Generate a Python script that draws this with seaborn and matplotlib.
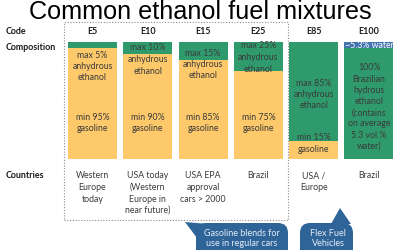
import matplotlib
matplotlib.use("Agg")
import matplotlib.pyplot as plt
import seaborn as sns
import pandas as pd
from matplotlib.patches import Rectangle, FancyBboxPatch, Polygon

# ---------------- data ----------------
codes = ["E5", "E10", "E15", "E25", "E85", "E100"]
total = [100, 100, 100, 100, 100, 100]
top_share = [5, 10, 15, 25, 85, 5.3]          # ethanol (E5..E85) / water (E100) share, %
top_labels = ["max 5%\nanhydrous\nethanol", "max 10%\nanhydrous\nethanol",
              "max 15%\nanhydrous\nethanol", "max 25%\nanhydrous\nethanol",
              "max 85%\nanhydrous\nethanol", "~5.3% water"]
base_labels = ["min 95%\ngasoline", "min 90%\ngasoline", "min 85%\ngasoline",
               "min 75%\ngasoline", "min 15%\ngasoline",
               "100%\nBrazilian\nhydrous\nethanol\n(contains\non average\n5.3 vol.%\nwater)"]
countries = ["Western\nEurope\ntoday", "USA today\n(Western\nEurope in\nnear future)",
             "USA EPA\napproval\ncars > 2000", "Brazil", "USA /\nEurope", "Brazil"]
row_labels = ["Code", "Composition", "Countries"]
title = "Common ethanol fuel mixtures"
callouts = ["Gasoline blends for\nuse in regular cars", "Flex Fuel\nVehicles"]

# ---------------- style ----------------
GREEN = "#2f9b6c"
YELLOW = "#fec96b"
BLUE = "#4374b0"
CALLOUT = "#2f6499"
TXT = "#3a3a3a"
FONT = "Lato"

W, H = 400, 250
sns.set_theme(style="white")
plt.rcParams["font.family"] = [FONT, "DejaVu Sans"]

fig = plt.figure(figsize=(W / 100, H / 100), dpi=100)
fig.patch.set_facecolor("white")


def fx(x):
    return x / W


def fy(y):
    return 1 - y / H


# axes for the bars: 6 categories, pitch 55.3 px, first center at 92.5 px
pitch = 55.3
left = 92.5 - pitch / 2
top_px, bot_px = 42, 159
ax = fig.add_axes([fx(left), fy(bot_px), fx(6 * pitch), (bot_px - top_px) / H])

base_colors = [YELLOW] * 5 + [GREEN]
top_colors = [GREEN] * 5 + [BLUE]
df = pd.DataFrame({"code": codes, "total": total})
bw = 49 / pitch
sns.barplot(data=df, x="code", y="total", hue="code", palette=base_colors,
            width=bw, linewidth=0, legend=False, ax=ax, saturation=1)
ax.bar(range(len(codes)), top_share, width=bw, bottom=0, color=top_colors, linewidth=0)
ax.set_xlim(-0.5, len(codes) - 0.5)
ax.set_ylim(100, 0)
ax.axis("off")

# ---------------- texts ----------------
fig.text(fx(200), fy(19), title, ha="center", va="baseline",
         fontsize=18.2, family="Liberation Sans", color="black")

row_y = [31, 48, 176]
for lab, y in zip(row_labels, row_y):
    fig.text(fx(6), fy(y), lab, ha="left", va="center", fontsize=6.4,
             fontweight="bold", color="#1a1a1a")

centers = [92.5 + pitch * i for i in range(len(codes))]
for c, code in zip(centers, codes):
    fig.text(fx(c), fy(31), code, ha="center", va="center", fontsize=6.4,
             fontweight="bold", color="#1a1a1a")


def lines(x, y0, text, step=11.5, **kw):
    for i, ln in enumerate(text.split("\n")):
        fig.text(fx(x), fy(y0 + i * step), ln, ha="center", va="center", **kw)


top_y = [55, 48, 53, 46, 83, 46]
base_y = [117, 117, 117, 117, 138, 68]
for i, c in enumerate(centers):
    col_top = "white" if i == 5 else TXT
    lines(c, top_y[i], top_labels[i], fontsize=6.3, color=col_top)
    step = 11.2 if i == 5 else 11.5
    lines(c, base_y[i], base_labels[i], step=step, fontsize=6.3, color=TXT)
    lines(c, 176, countries[i], fontsize=6.3, color=TXT)

# dotted frame around regular-car blends
fig.add_artist(Rectangle((fx(64), fy(220)), fx(288 - 64), (220 - 22) / H,
                         transform=fig.transFigure, fill=False,
                         edgecolor="#8a8a8a", linestyle=(0, (1, 1.5)), linewidth=0.8))

# callouts
def callout(x0, x1, y0, pointer, text, cx):
    box = FancyBboxPatch((fx(x0), fy(262)), fx(x1 - x0), (262 - y0) / H,
                         boxstyle="round,pad=0,rounding_size=0.025",
                         transform=fig.transFigure, facecolor=CALLOUT,
                         edgecolor="none", mutation_aspect=W / H)
    fig.add_artist(box)
    poly = Polygon([(fx(px), fy(py)) for px, py in pointer], closed=True,
                   transform=fig.transFigure, facecolor=CALLOUT, edgecolor="none")
    fig.add_artist(poly)
    lines(cx, 233, text, step=11, fontsize=6.5, color="#e4ecf5")


callout(196, 288, 223, [(185, 222), (208, 224), (197, 238)], callouts[0], 242)
callout(300, 353, 223, [(340, 208), (331, 224), (351, 224)], callouts[1], 328)

fig.savefig("out.png", dpi=100)
